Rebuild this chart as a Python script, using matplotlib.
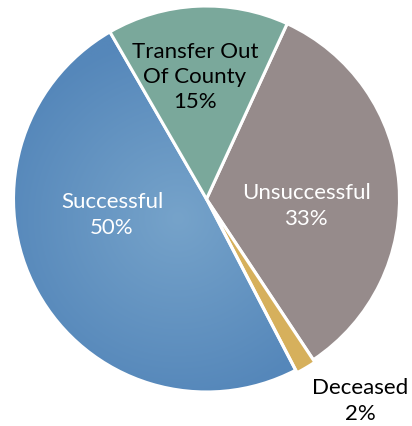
import numpy as np
import matplotlib.pyplot as plt

# данные (по часовой стрелке от верхней правой границы)
categories = ["Unsuccessful", "Deceased", "Successful", "Transfer Out\nOf County"]
values = [33.8, 1.7, 49.3, 15.2]
pct_labels = ["33%", "2%", "50%", "15%"]
colors = ["#968B8B", "#D6B05C", "#6394C3", "#7AA89B"]
text_colors = ["white", "black", "white", "black"]

plt.rcParams['font.family'] = ['Lato', 'DejaVu Sans']

W, H = 412, 427
cx, cy, R = 206.5, 200, 193  # центр и радиус круга в пикселях

fig = plt.figure(figsize=(W / 100, H / 100), dpi=100)
ax = fig.add_axes([0, 0, 1, 1])

wedges, _ = ax.pie(
    values,
    colors=colors,
    startangle=65.3,
    counterclock=False,
    explode=[0, 0.015, 0, 0],
    wedgeprops=dict(edgecolor='white', linewidth=2.2),
)

# радиальный градиент для сектора "Successful"
succ = wedges[2]
succ.set_facecolor('none')
n = 400
gx, gy = np.meshgrid(np.linspace(-1.05, 1.05, n), np.linspace(-1.05, 1.05, n))
dist = np.sqrt((gx + 0.15) ** 2 + (gy + 0.1) ** 2)
t = np.clip(dist / 0.95, 0, 1)
c_in = np.array([0x76, 0xA3, 0xCA]) / 255
c_out = np.array([0x55, 0x87, 0xBA]) / 255
img = c_in[None, None, :] * (1 - t[..., None]) + c_out[None, None, :] * t[..., None]
im = ax.imshow(img, extent=[-1.05, 1.05, -1.05, 1.05], origin='lower',
               zorder=succ.get_zorder() - 0.1, interpolation='bilinear')
im.set_clip_path(succ)

# подписи (позиции в пикселях, как в оригинале)
label_pos = [(306, 206), (360, 401), (112, 215), (195, 77)]
for cat, pct, tc, (px, py) in zip(categories, pct_labels, text_colors, label_pos):
    ax.text((px - cx) / R, (cy - py) / R, f"{cat}\n{pct}",
            ha='center', va='center', fontsize=16, color=tc,
            linespacing=1.32, zorder=5)

ax.set_xlim(-cx / R, (W - cx) / R)
ax.set_ylim(-(H - cy) / R, cy / R)
ax.set_aspect('auto')
ax.axis('off')

plt.savefig("out.png", dpi=100)
